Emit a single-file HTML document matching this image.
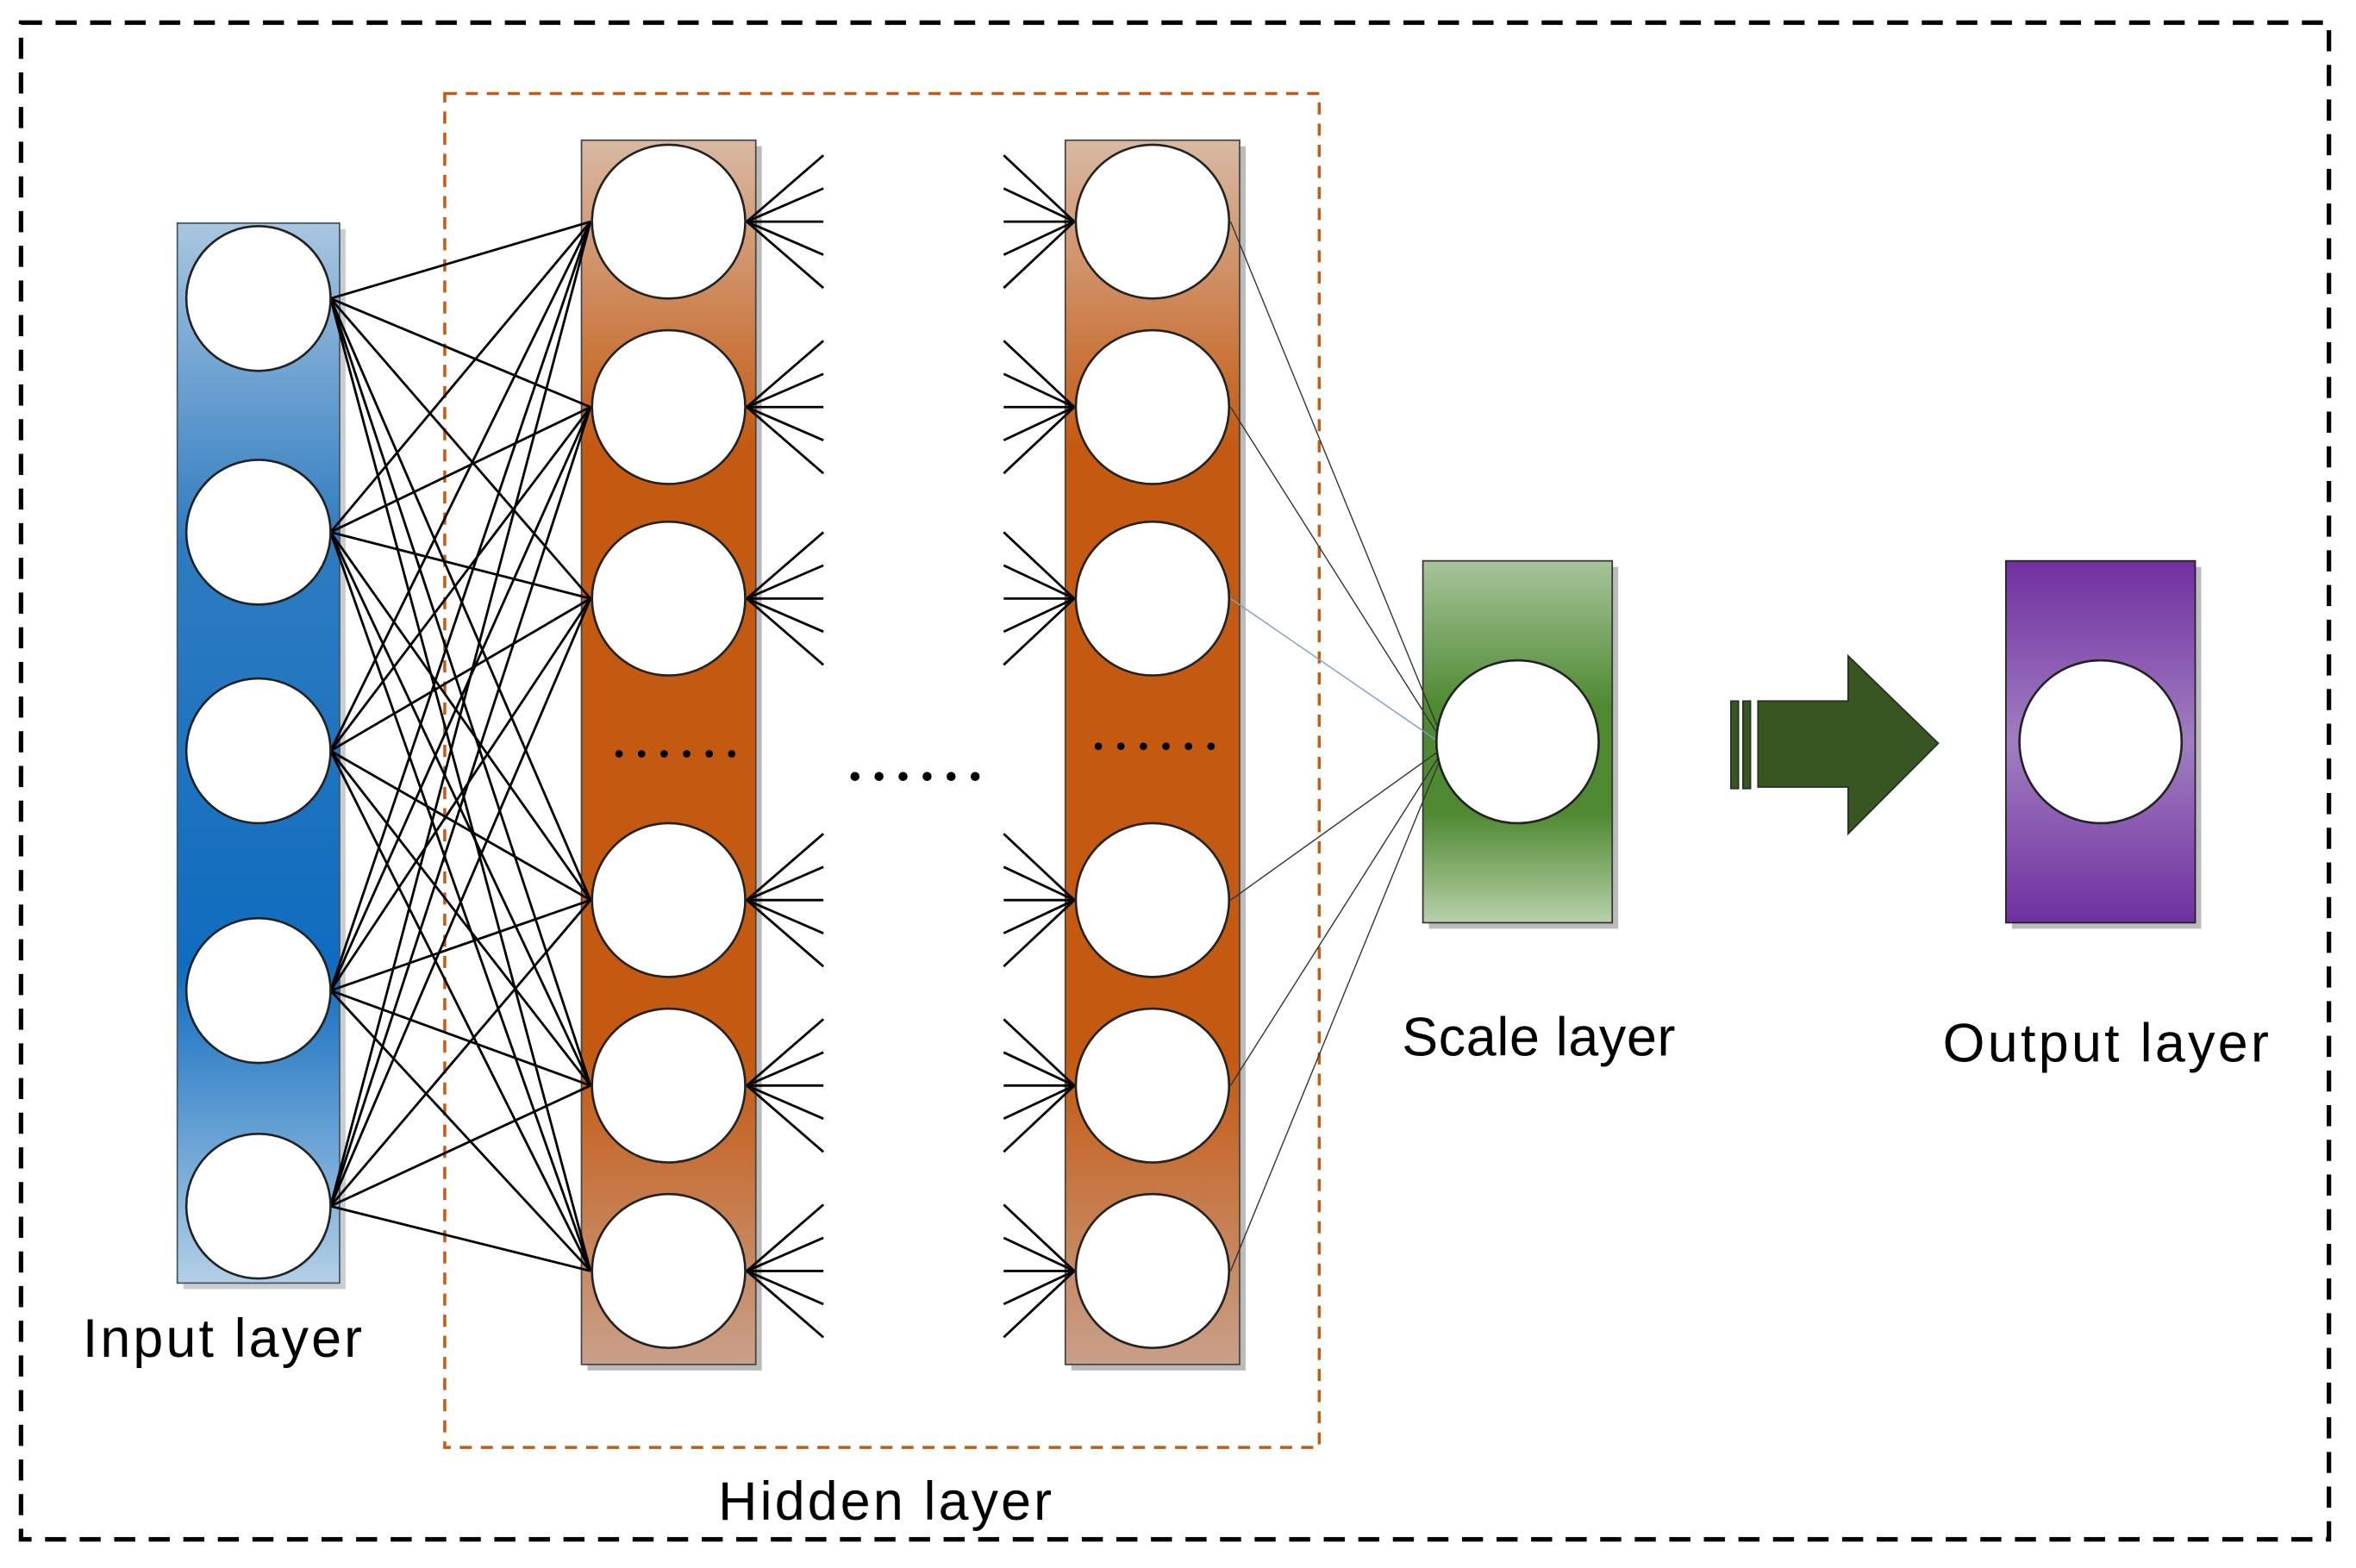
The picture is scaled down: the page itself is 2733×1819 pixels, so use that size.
<!DOCTYPE html>
<html><head><meta charset="utf-8"><style>
html,body{margin:0;padding:0;background:#fff}
svg{display:block}
text{font-family:"Liberation Sans",sans-serif;fill:#000}
</style></head><body>
<svg id="s" width="2733" height="1819" viewBox="0 0 1568 1040" preserveAspectRatio="none" xmlns="http://www.w3.org/2000/svg">
<defs>
<linearGradient id="gb" x1="0" y1="0" x2="0" y2="1"><stop offset="0" stop-color="#a9c6e0"/><stop offset="0.3" stop-color="#2e7cc0"/><stop offset="0.7" stop-color="#0f6cbf"/><stop offset="1" stop-color="#b3cfe6"/></linearGradient>
<linearGradient id="gh" x1="0" y1="0" x2="0" y2="1"><stop offset="0" stop-color="#d8b9a3"/><stop offset="0.25" stop-color="#c45a12"/><stop offset="0.75" stop-color="#c45a12"/><stop offset="1" stop-color="#c9a08a"/></linearGradient>
<linearGradient id="gg" x1="0" y1="0" x2="0" y2="1"><stop offset="0" stop-color="#a7c49a"/><stop offset="0.4" stop-color="#4f8a32"/><stop offset="0.7" stop-color="#4f8a32"/><stop offset="1" stop-color="#b8d0aa"/></linearGradient>
<linearGradient id="gp" x1="0" y1="0" x2="0" y2="1"><stop offset="0" stop-color="#7030a0"/><stop offset="0.5" stop-color="#a07ec0"/><stop offset="1" stop-color="#7030a0"/></linearGradient>
</defs>
<rect x="0" y="0" width="1568" height="1040" fill="#fff"/>
<rect x="14" y="15" width="1536" height="1006" fill="none" stroke="#000" stroke-width="3" stroke-dasharray="14,9"/>
<rect x="296" y="62" width="582" height="898" fill="none" stroke="#c55a11" stroke-width="2" stroke-dasharray="8,6"/>
<rect x="122" y="152" width="108" height="703" fill="#ccc"/>
<rect x="118" y="148" width="108" height="703" fill="url(#gb)" stroke="#456" stroke-width="1"/>
<rect x="391" y="97" width="116" height="812" fill="#bbb"/>
<rect x="387" y="93" width="116" height="812" fill="url(#gh)" stroke="#444" stroke-width="1"/>
<rect x="713" y="97" width="116" height="812" fill="#bbb"/>
<rect x="709" y="93" width="116" height="812" fill="url(#gh)" stroke="#444" stroke-width="1"/>
<rect x="951" y="376" width="126" height="240" fill="#bbb"/>
<rect x="947" y="372" width="126" height="240" fill="url(#gg)" stroke="#333" stroke-width="1"/>
<rect x="1339" y="376" width="126" height="240" fill="#bbb"/>
<rect x="1335" y="372" width="126" height="240" fill="url(#gp)" stroke="#222" stroke-width="1"/>
<g id="lines" stroke="#000" stroke-width="1.6"></g>
<g id="circ" fill="#fff" stroke="#222" stroke-width="1.5"></g>
<g fill="#000">
<circle cx="412" cy="500" r="2.5"/><circle cx="427" cy="500" r="2.5"/><circle cx="442" cy="500" r="2.5"/><circle cx="457" cy="500" r="2.5"/><circle cx="472" cy="500" r="2.5"/><circle cx="487" cy="500" r="2.5"/>
<circle cx="731" cy="495" r="2.5"/><circle cx="746" cy="495" r="2.5"/><circle cx="761" cy="495" r="2.5"/><circle cx="776" cy="495" r="2.5"/><circle cx="791" cy="495" r="2.5"/><circle cx="806" cy="495" r="2.5"/>
<circle cx="569" cy="515" r="3"/><circle cx="585" cy="515" r="3"/><circle cx="601" cy="515" r="3"/><circle cx="617" cy="515" r="3"/><circle cx="633" cy="515" r="3"/><circle cx="649" cy="515" r="3"/>
</g>
<g fill="#375623" stroke="#22331a" stroke-width="1">
<rect x="1152" y="465" width="5" height="58"/><rect x="1160" y="465" width="5" height="58"/>
<polygon points="1170,465 1230,465 1230,435 1290,493 1230,553 1230,522 1170,522"/>
</g>
<text x="55" y="900" font-size="36" textLength="186">Input layer</text>
<text x="478" y="1008" font-size="36" textLength="222">Hidden layer</text>
<text x="933" y="700" font-size="36" textLength="182">Scale layer</text>
<text x="1293" y="704" font-size="36" textLength="217">Output layer</text>
</svg>
<script>
var NS="http://www.w3.org/2000/svg";
function el(g,t,a){var e=document.createElementNS(NS,t);for(var k in a)e.setAttribute(k,a[k]);document.getElementById(g).appendChild(e);return e;}
var iy=[198,353,498,657,800], hy=[147,270,397,597,720,843];
iy.forEach(function(a){hy.forEach(function(b){el("lines","line",{x1:220,y1:a,x2:393,y2:b});});});
var offs=[-44,-22,0,22,44];
hy.forEach(function(b){offs.forEach(function(o){
 el("lines","line",{x1:497,y1:b,x2:548,y2:b+o});
 el("lines","line",{x1:668,y1:b+o,x2:715,y2:b});
});});
hy.forEach(function(b,i){el("lines","line",{x1:819,y1:b,x2:962,y2:495,"stroke-width":0.8,stroke:i==2?"#7aa0d0":"#333"});});
iy.forEach(function(y){el("circ","circle",{cx:172,cy:y,r:48});});
hy.forEach(function(y){el("circ","circle",{cx:445,cy:y,r:51});el("circ","circle",{cx:767,cy:y,r:51});});
el("circ","circle",{cx:1010,cy:492,r:54});
el("circ","circle",{cx:1398,cy:492,r:54});
</script>
</body></html>
